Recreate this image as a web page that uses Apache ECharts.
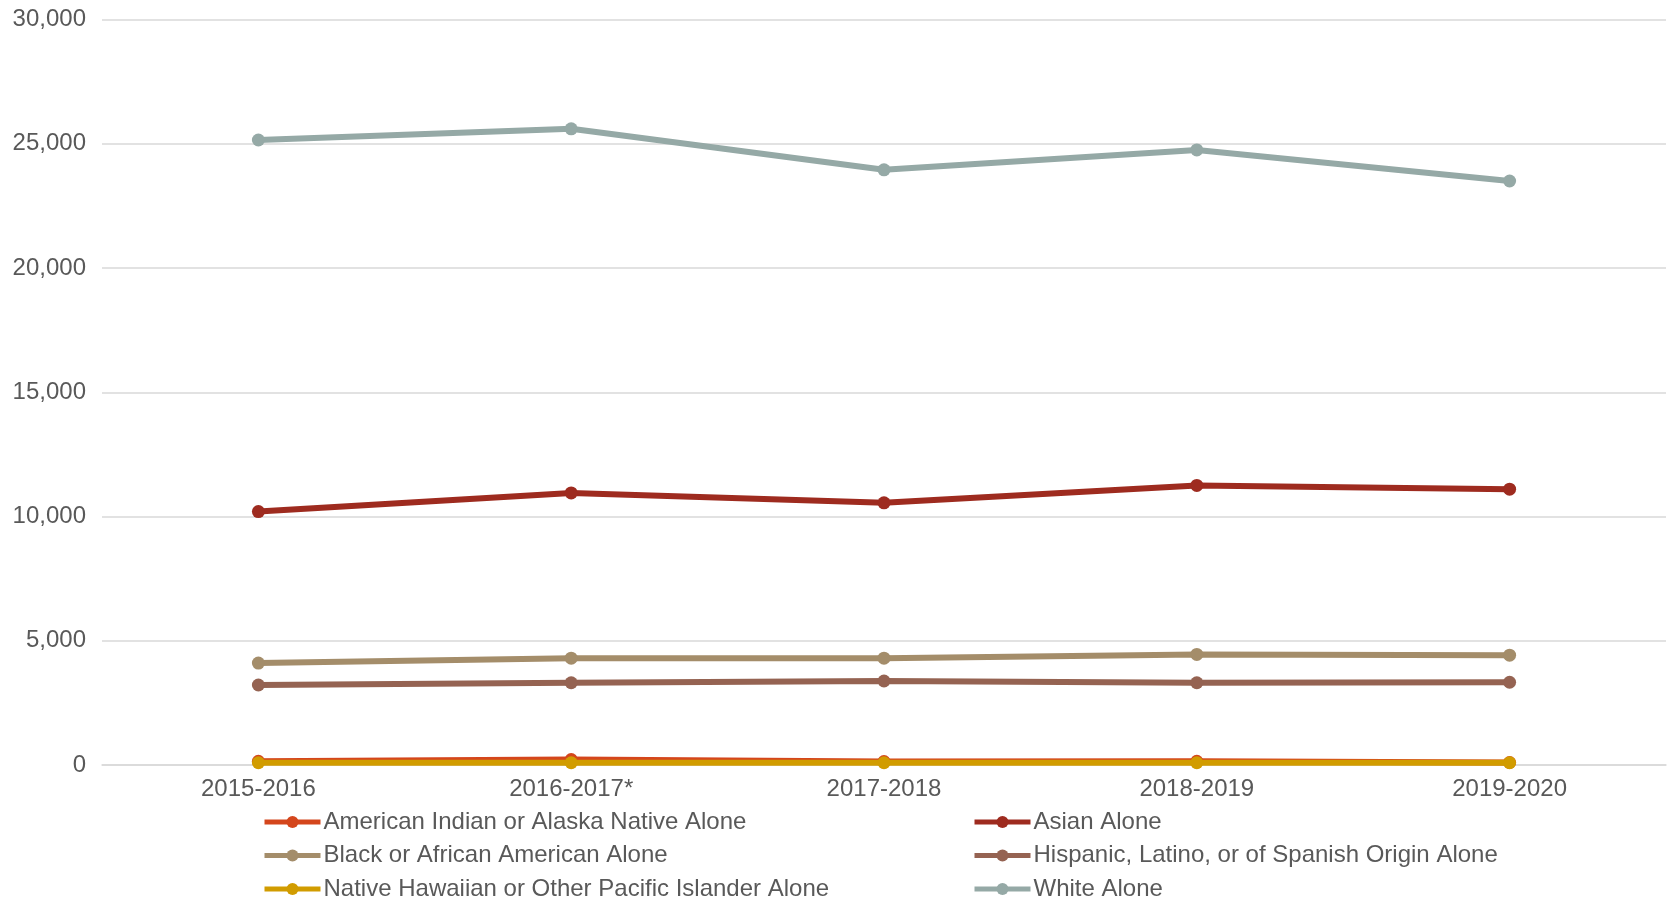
<!DOCTYPE html>
<html>
<head>
<meta charset="utf-8">
<script src="https://cdn.jsdelivr.net/npm/echarts@6/dist/echarts.min.js"></script>
<style>
html,body{margin:0;padding:0;background:#fff;}
#chart{width:1679px;height:901px;}
</style>
</head>
<body>
<div id="chart"></div>
<script>
const categories = ['2015-2016', '2016-2017*', '2017-2018', '2018-2019', '2019-2020'];
const americanIndian = [150, 220, 140, 150, 100];
const asian = [10200, 10950, 10550, 11250, 11100];
const black = [4100, 4300, 4300, 4450, 4420];
const hispanic = [3220, 3310, 3380, 3310, 3330];
const nativeHawaiian = [90, 90, 90, 90, 90];
const white = [25150, 25600, 23950, 24750, 23500];

const seriesNames = [
  'American Indian or Alaska Native Alone',
  'Asian Alone',
  'Black or African American Alone',
  'Hispanic, Latino, or of Spanish Origin Alone',
  'Native Hawaiian or Other Pacific Islander Alone',
  'White Alone'
];
const seriesData = [americanIndian, asian, black, hispanic, nativeHawaiian, white];
const colors = ['#D4461C', '#9E2B1F', '#A48D6A', '#956352', '#D19C00', '#95A9A6'];

const FONT = '"Liberation Sans", Arial, sans-serif';

const chart = echarts.init(document.getElementById('chart'));

// draw order: white, asian, black, hispanic, american indian, native hawaiian (gold on top)
const drawOrder = [5, 1, 2, 3, 0, 4];
const series = drawOrder.map((i, k) => ({
  name: seriesNames[i],
  type: 'line',
  data: seriesData[i],
  symbol: 'circle',
  symbolSize: 13,
  z: 2 + k,
  lineStyle: { width: 6, color: colors[i] },
  itemStyle: { color: colors[i] },
  emphasis: { disabled: true },
  animation: false
}));

const legendCommon = {
  orient: 'vertical',
  itemWidth: 56,
  itemHeight: 15,
  itemGap: 9.5,
  height: 100,
  lineStyle: { width: 5 },
  textStyle: { fontFamily: FONT, fontSize: 24, lineHeight: 24, color: '#595959', padding: [0, 0, 0, -2] },
  selectedMode: false
};

chart.setOption({
  backgroundColor: '#fff',
  color: colors,
  animation: false,
  grid: { left: 102, right: 13, top: 19.5, bottom: 136, containLabel: false },
  legend: [
    Object.assign({}, legendCommon, {
      left: 257, top: 805,
      data: [seriesNames[0], seriesNames[2], seriesNames[4]]
    }),
    Object.assign({}, legendCommon, {
      left: 967, top: 805,
      data: [seriesNames[1], seriesNames[3], seriesNames[5]]
    })
  ],
  xAxis: {
    type: 'category',
    data: categories,
    boundaryGap: true,
    axisLine: { show: true, lineStyle: { color: '#d9d9d9', width: 1.5 } },
    axisTick: { show: false },
    axisLabel: { fontFamily: FONT, fontSize: 24, color: '#595959', margin: 12 }
  },
  yAxis: {
    type: 'value',
    min: 0,
    max: 30000,
    interval: 5000,
    axisLine: { show: false },
    axisTick: { show: false },
    splitLine: { lineStyle: { color: '#d9d9d9', width: 1.5 } },
    axisLabel: {
      fontFamily: FONT, fontSize: 24, color: '#595959', margin: 16,
      formatter: v => v.toLocaleString('en-US')
    }
  },
  series: series
});
</script>
</body>
</html>
